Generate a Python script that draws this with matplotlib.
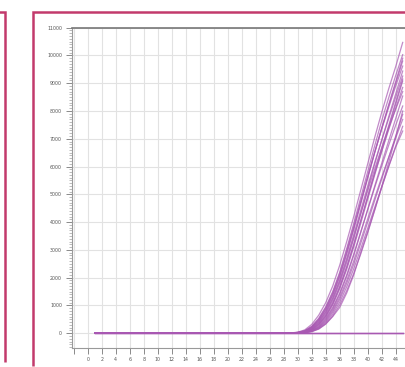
import numpy as np
import matplotlib.pyplot as plt
from matplotlib.lines import Line2D
from matplotlib.ticker import MultipleLocator

# amplification curves
# every curve sits at 0 for cycles 1-27, values below are cycles 28-45
flat_cycles = list(range(1, 28))
flat_values = [0] * 27
rise_cycles = list(range(28, 46))

curves = [
    [0, 10, 40, 120, 320, 650, 1100, 1700, 2450, 3300, 4200, 5150, 6100, 7050, 7950, 8800, 9600, 10470],
    [0, 5, 30, 90, 250, 540, 950, 1500, 2200, 3050, 3950, 4880, 5820, 6750, 7650, 8480, 9280, 10030],
    [0, 5, 25, 75, 210, 460, 840, 1360, 2030, 2850, 3730, 4650, 5580, 6500, 7380, 8230, 9060, 9900],
    [0, 5, 25, 80, 220, 480, 870, 1400, 2080, 2900, 3780, 4700, 5620, 6520, 7380, 8200, 9000, 9800],
    [0, 5, 30, 85, 240, 510, 920, 1460, 2150, 2980, 3850, 4750, 5650, 6520, 7350, 8130, 8900, 9620],
    [0, 0, 15, 55, 160, 370, 700, 1180, 1800, 2550, 3400, 4300, 5200, 6100, 6950, 7800, 8620, 9440],
    [0, 0, 20, 65, 190, 420, 780, 1280, 1920, 2700, 3550, 4420, 5300, 6150, 6950, 7730, 8500, 9260],
    [0, 0, 12, 45, 135, 320, 620, 1060, 1650, 2370, 3180, 4050, 4930, 5800, 6650, 7480, 8320, 9150],
    [0, 0, 10, 40, 120, 300, 590, 1020, 1600, 2300, 3100, 3950, 4830, 5700, 6550, 7400, 8250, 9080],
    [0, 0, 12, 50, 150, 340, 650, 1100, 1680, 2400, 3200, 4050, 4900, 5750, 6550, 7330, 8100, 8850],
    [0, 0, 18, 60, 175, 400, 750, 1240, 1870, 2630, 3460, 4300, 5130, 5920, 6680, 7400, 8070, 8700],
    [0, 0, 8, 30, 95, 240, 500, 880, 1400, 2050, 2800, 3620, 4460, 5300, 6120, 6930, 7730, 8540],
    [0, 0, 10, 35, 110, 270, 540, 930, 1450, 2100, 2850, 3650, 4450, 5250, 6020, 6770, 7490, 8180],
    [0, 0, 4, 18, 60, 160, 340, 620, 1020, 1530, 2150, 2850, 3620, 4430, 5270, 6150, 7060, 8000],
    [0, 0, 5, 25, 80, 200, 420, 760, 1220, 1800, 2480, 3230, 4000, 4780, 5550, 6320, 7100, 7880],
    [0, 0, 6, 28, 90, 220, 460, 820, 1300, 1900, 2600, 3350, 4120, 4880, 5620, 6340, 7030, 7700],
    [0, 0, 5, 22, 70, 180, 380, 690, 1120, 1670, 2320, 3040, 3780, 4530, 5270, 6010, 6740, 7450],
    [0, 0, 5, 20, 60, 150, 330, 600, 930, 1450, 2100, 2900, 3650, 4450, 5250, 6000, 6700, 7280],
]

# negative controls stay flat
neg_cycles = list(range(1, 46))
neg_values = [0] * 45

x_ticks = list(range(-2, 46, 2))
x_labels = [''] + [str(t) for t in range(0, 46, 2)]
y_ticks = list(range(0, 11001, 1000))

line_color = '#a858b2'
frame_color = '#c23a6c'

W, H = 405, 367
fig = plt.figure(figsize=(W / 100, H / 100), dpi=100)
fig.patch.set_facecolor('white')


def px_line(xs, ys):
    # frame lines of the screenshot, given in pixels from the top left
    fig.add_artist(Line2D([x / W for x in xs], [1 - y / H for y in ys],
                          transform=fig.transFigure, color=frame_color,
                          linewidth=1.8, solid_capstyle='butt',
                          solid_joinstyle='miter'))


px_line([-5, 5, 5], [12, 12, 362])
px_line([410, 32.5, 32.5], [12, 12, 366])

ax = fig.add_axes([71.7 / W, 19.3 / H, 338.0 / W, 320.0 / H])

for vals in curves:
    ax.plot(flat_cycles + rise_cycles, flat_values + vals, color=line_color,
            linewidth=0.9, alpha=0.7)
for _ in range(2):
    ax.plot(neg_cycles, neg_values, color=line_color, linewidth=1.0, alpha=0.9)

ax.set_xlim(-2.3, 46)
ax.set_ylim(-520, 11000)
ax.set_xticks(x_ticks)
ax.set_xticklabels(x_labels)
ax.set_yticks(y_ticks)
ax.yaxis.set_minor_locator(MultipleLocator(100))

ax.grid(True, which='major', color='#e2e2e2', linewidth=0.8)
ax.set_axisbelow(True)

ax.tick_params(axis='both', which='major', labelsize=3.4, labelcolor='#555555',
               color='#777777', length=4, width=0.6, pad=3)
ax.tick_params(axis='y', which='minor', color='#888888', length=2, width=0.4)

ax.spines['top'].set_color('#777777')
ax.spines['top'].set_linewidth(1.2)
ax.spines['left'].set_color('#999999')
ax.spines['left'].set_linewidth(0.8)
ax.spines['bottom'].set_color('#999999')
ax.spines['bottom'].set_linewidth(0.8)
ax.spines['right'].set_visible(False)

fig.savefig('out.png', dpi=100)
